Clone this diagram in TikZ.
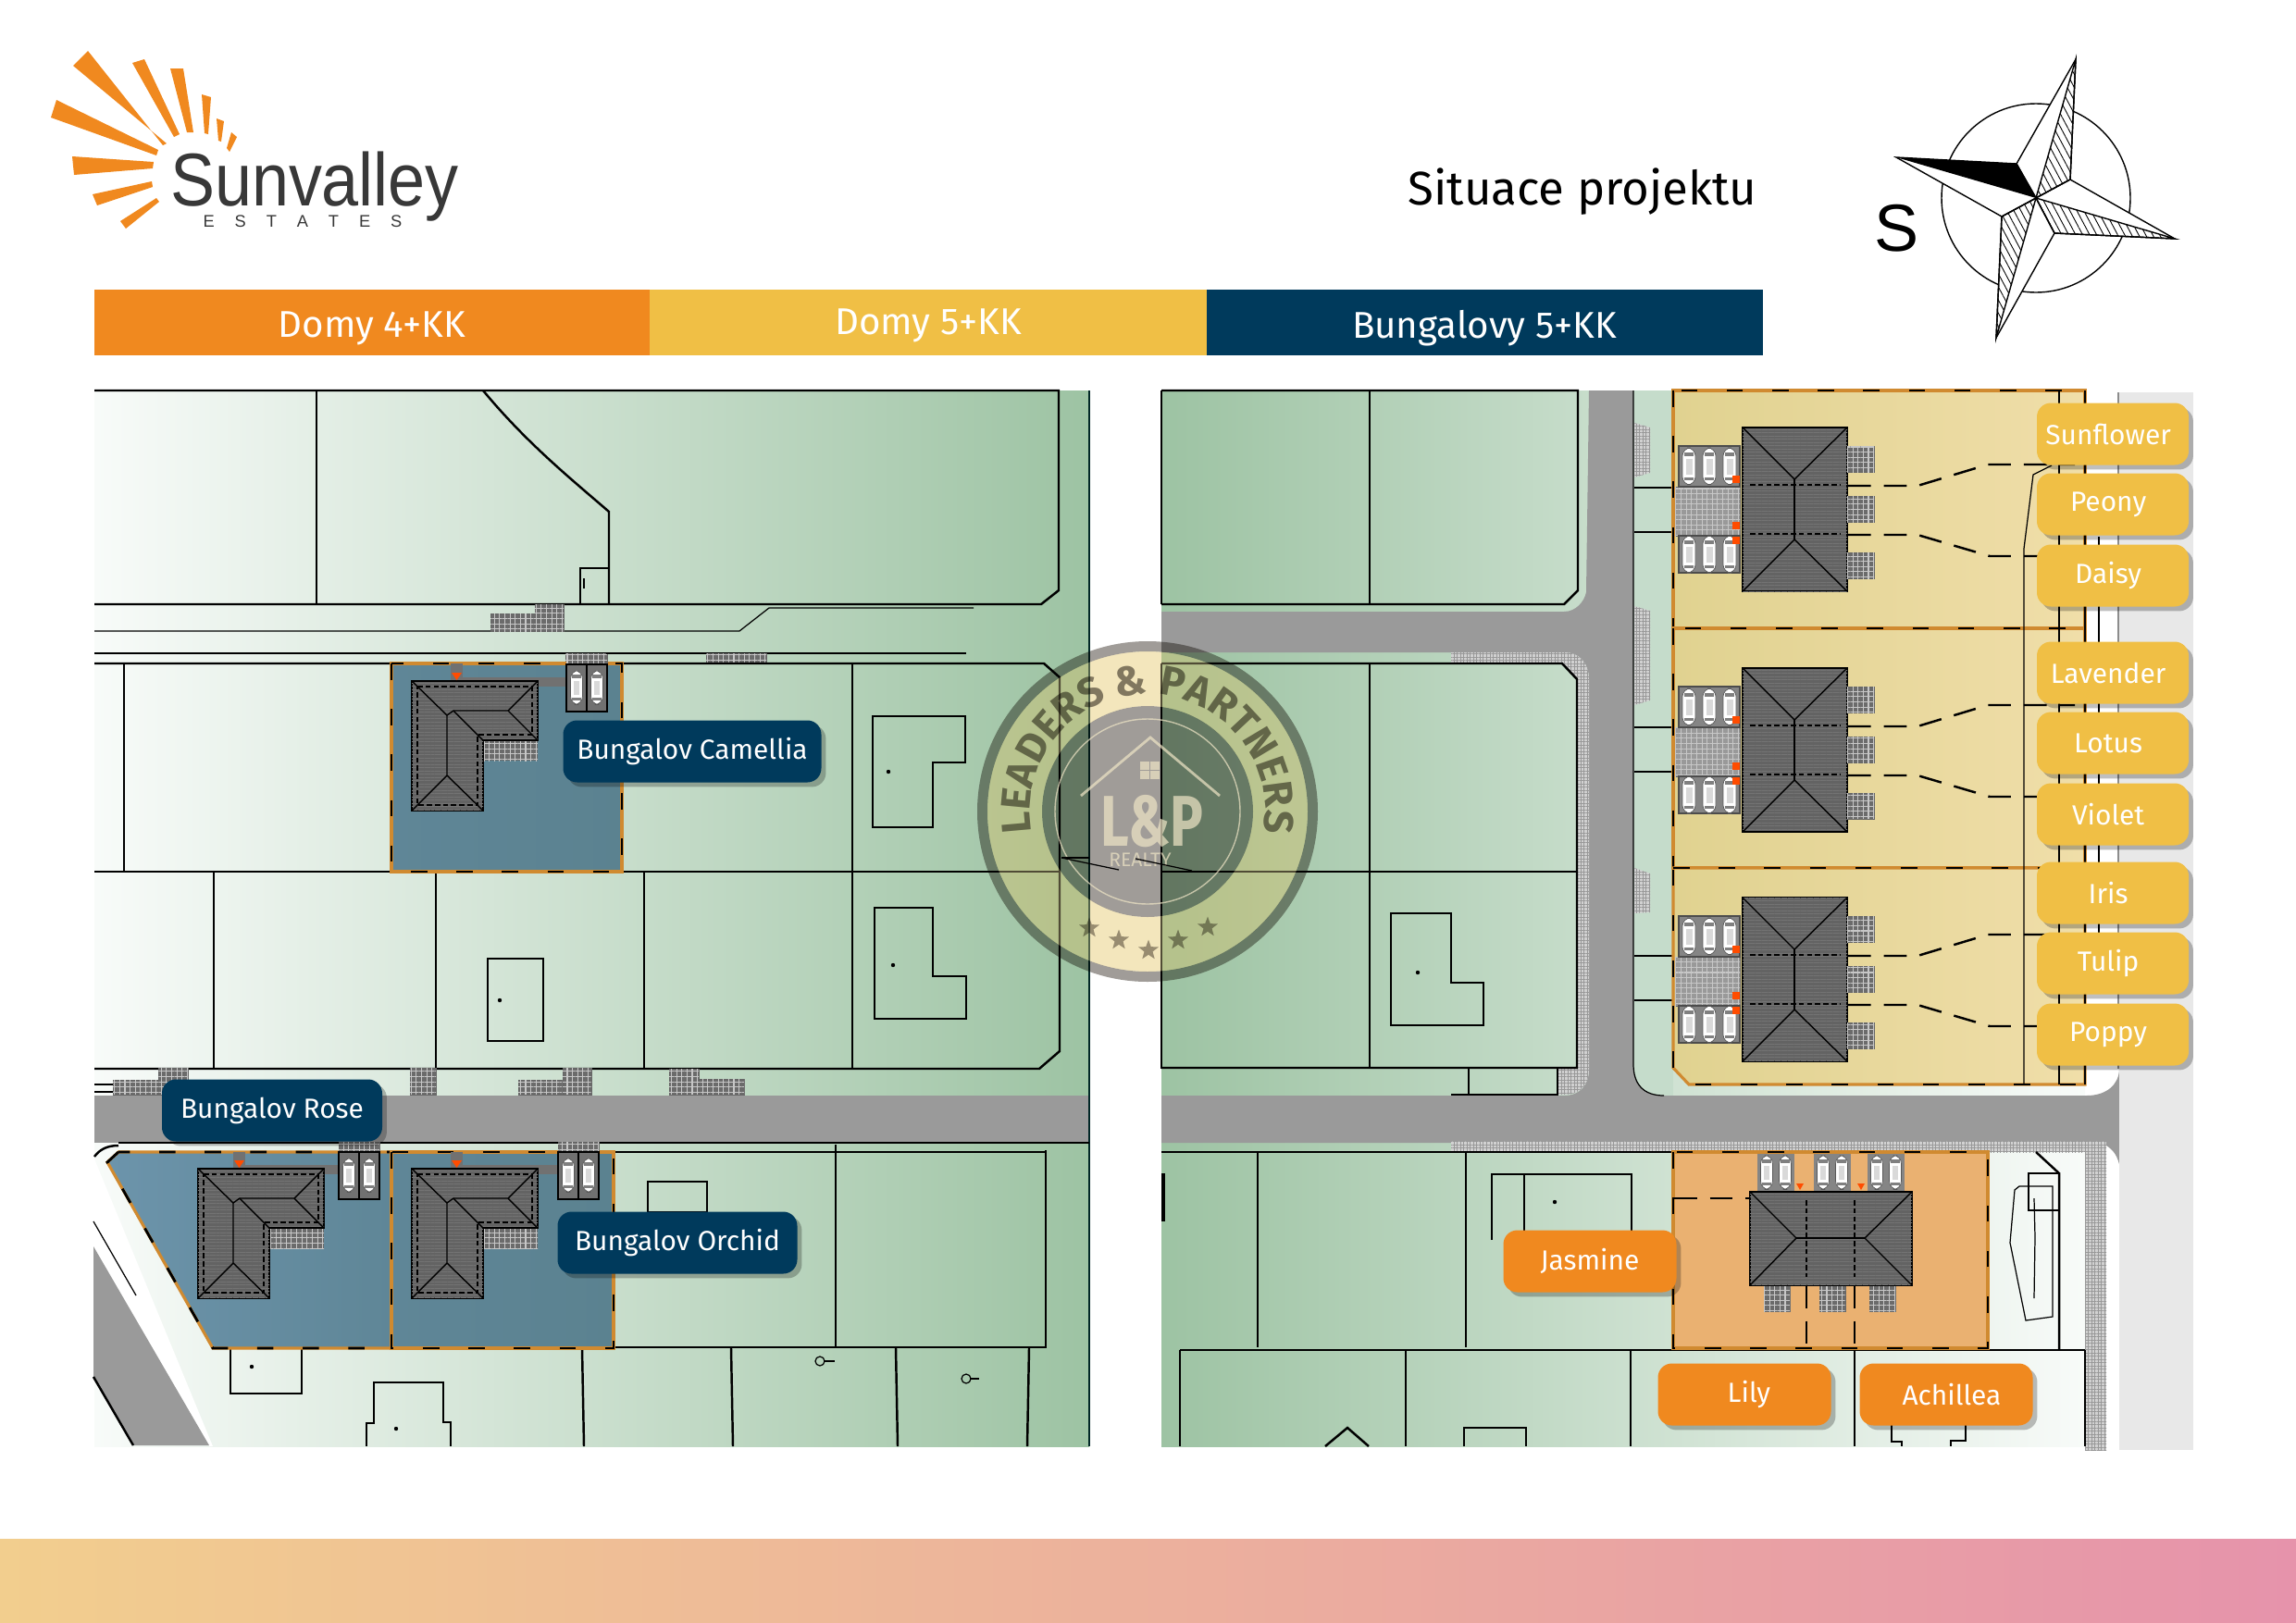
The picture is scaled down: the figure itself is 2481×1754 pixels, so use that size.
\documentclass[tikz,border=0pt]{standalone}
\usepackage{fontspec}
\setmainfont{Fira Sans}
\newfontfamily\logofont{Liberation Sans}
\newfontfamily\estatesfont[LetterSpace=92]{Liberation Sans}
\usetikzlibrary{patterns.meta,shadows,shapes.geometric,decorations.text}
\definecolor{sunorange}{HTML}{F0891F}
\definecolor{sunyellow}{HTML}{F0BF45}
\definecolor{deepnavy}{HTML}{003A5C}
\definecolor{roadgray}{HTML}{9A9A9A}
\definecolor{roofgray}{HTML}{636363}
\definecolor{parkgray}{HTML}{858585}
\definecolor{plotgreen}{HTML}{9DC3A3}
\definecolor{plotpale}{HTML}{F8FBF9}
\definecolor{stripgreen}{HTML}{C5DCCB}
\definecolor{edgeorange}{HTML}{D08A30}
\definecolor{sealgray}{HTML}{A09C98}
\definecolor{sealgold}{HTML}{F9EFCF}
\definecolor{sealwarm}{HTML}{E8D79A}
\definecolor{sealpale}{HTML}{EFE5C6}
\definecolor{bandleft}{HTML}{F2CE8E}
\definecolor{bandmid}{HTML}{EBB08F}
\definecolor{bandright}{HTML}{E693AB}
\definecolor{lotblueA}{HTML}{6C94AB}
\definecolor{lotblueB}{HTML}{5F8697}
\definecolor{lotblueC}{HTML}{5B8290}
\definecolor{lotorange}{HTML}{EAB171}
\definecolor{lotyellowA}{HTML}{E0D290}
\definecolor{lotyellowB}{HTML}{F0DEA9}
\def\pxu{0.2845pt}
\tikzset{
    plotline/.style={black, line width=0.7pt},
    thinline/.style={black, line width=0.35pt},
    lotedge/.style={draw=edgeorange, line width=0.9pt, postaction={draw=black, line width=0.8pt, dash pattern=on 5pt off 9pt}},
    paver/.style={draw=black!60, line width=0.2pt, fill=black!58, postaction={pattern={Hatch[angle=0,distance=1.6pt,line width=0.3pt]}, pattern color=black!22}},
    walkway/.style={fill=black!18, postaction={pattern={Hatch[angle=0,distance=1pt,line width=0.2pt]}, pattern color=black!40}},
    parkbay/.style={draw=black, line width=0.4pt, fill=parkgray!85!black},
    roof/.style={draw=black, line width=0.5pt, fill=roofgray, postaction={pattern={Lines[angle=0,distance=1pt,line width=0.2pt]}, pattern color=black!55}},
    ridge/.style={black, line width=0.4pt},
    eave/.style={black, line width=0.3pt, dash pattern=on 1.6pt off 0.9pt},
    leader/.style={black, line width=0.7pt, dash pattern=on 7pt off 4pt},
    marker/.style={fill=orange!60!red},
    tag/.style={rounded corners=4.3pt, inner sep=0pt, text=white, minimum height=67*\pxu, font=\fontsize{8.5}{10}\selectfont, drop shadow={shadow xshift=1.4pt, shadow yshift=-1.4pt, opacity=0.25, fill=black}},
    tagyellow/.style={tag, fill=sunyellow, minimum width=164*\pxu, execute at end node=\hspace{2.8pt}},
    tagorange/.style={tag, fill=sunorange, minimum width=187*\pxu},
    tagnavy/.style={tag, fill=deepnavy},
    barlabel/.style={text=white, inner sep=0pt, font=\fontsize{11.45}{13}\selectfont},
    car/.pic={
        \filldraw[draw=black!65, line width=0.2pt, fill=white, rounded corners=2.5pt] (-7,-20) rectangle (7,20);
        \fill[black!50] (-5,-15) rectangle (5,-11);
        \fill[black!50] (-5,12) rectangle (5,15);
        \fill[black!15] (-3.5,-8) rectangle (3.5,9);
    },
    lroof/.pic={
        \path[roof] (0,0) -- (136,0) -- (136,64) -- (77,64) -- (77,140) -- (0,140) -- cycle;
        \draw[eave] (6,6) -- (130,6) -- (130,58) -- (71,58) -- (71,134) -- (6,134) -- cycle;
        \draw[ridge] (0,0) -- (38,37) -- (38,102) -- (0,140);
        \draw[ridge] (38,102) -- (77,140);
        \draw[ridge] (38,37) -- (45,32) -- (104,32) -- (136,0);
        \draw[ridge] (104,32) -- (136,64);
        \draw[ridge] (45,32) -- (77,64);
    },
    twinroof/.pic={
        \path[roof] (0,0) rectangle (113,177);
        \draw[ridge] (0,0) -- (56,56) -- (113,0);
        \draw[ridge] (0,177) -- (56,121) -- (113,177);
        \draw[ridge] (56,56) -- (56,121);
        \draw[eave] (8,62) -- (105,62);
        \draw[eave] (8,115) -- (105,115);
    },
}
\begin{document}
\begin{tikzpicture}[x=0.2845pt, y=-0.2845pt]
    \useasboundingbox (0,0) rectangle (2481,1754);

    % logo
    \fill[sunorange] (95,55) -- (79,71) -- (180,155) -- (176,157) -- cycle;
    \fill[sunorange] (61,108) -- (55,127) -- (169,168) -- (171,162) -- cycle;
    \fill[sunorange] (78,169) -- (80,189) -- (165,182) -- (166,175) -- cycle;
    \fill[sunorange] (100,210) -- (105,222) -- (165,202) -- (164,196) -- cycle;
    \fill[sunorange] (130,239) -- (136,247) -- (172,218) -- (169,214) -- cycle;
    \fill[sunorange] (143,68) -- (156,64) -- (194,145) -- (188,148) -- cycle;
    \fill[sunorange] (184,74) -- (198,74) -- (209,143) -- (202,143) -- cycle;
    \fill[sunorange] (218,102) -- (228,105) -- (225,145) -- (221,144) -- cycle;
    \fill[sunorange] (234,128) -- (242,131) -- (239,153) -- (236,152) -- cycle;
    \fill[sunorange] (250,143) -- (256,148) -- (248,164) -- (245,160) -- cycle;
    \node[transform shape, xscale=0.89, inner sep=0pt, text=black!78, font=\logofont\fontsize{23}{25}\selectfont, anchor=base] (logoname) at (340,222) {Sunvalley};
    \node[inner sep=0pt, text=black!78, font=\estatesfont\fontsize{5.2}{6}\selectfont, anchor=base] (logosub) at (327,245) {E S T A T E S};

    \node[inner sep=0pt, font=\fontsize{14.5}{17}\selectfont] (maintitle) at (1710,207) {Situace projektu};

    % compass
    \draw[line width=0.4pt] (2200,214) circle (102);
    \filldraw[fill=white, line width=0.4pt] (2243,64) -- (2237,194) -- (2200,214) -- (2179,177) -- cycle;
    \filldraw[fill=white, line width=0.4pt] (2350,258) -- (2220,252) -- (2200,214) -- (2237,194) -- cycle;
    \filldraw[fill=white, line width=0.4pt] (2157,365) -- (2163,234) -- (2200,214) -- (2220,252) -- cycle;
    \filldraw[fill=white, line width=0.4pt] (2049,170) -- (2179,177) -- (2200,214) -- (2163,234) -- cycle;
    \fill[black] (2049,170) -- (2179,177) -- (2200,214) -- cycle;
    \draw[line width=0.4pt, pattern={Lines[angle=-62,distance=1.9pt,line width=0.25pt]}] (2243,64) -- (2237,194) -- (2200,214) -- cycle;
    \draw[line width=0.4pt, pattern={Lines[angle=-62,distance=1.9pt,line width=0.25pt]}] (2350,258) -- (2220,252) -- (2200,214) -- cycle;
    \draw[line width=0.4pt, pattern={Lines[angle=-62,distance=1.9pt,line width=0.25pt]}] (2157,365) -- (2163,234) -- (2200,214) -- cycle;
    \node[inner sep=0pt, font=\logofont\fontsize{20.5}{22}\selectfont] (northmark) at (2050,247) {S};

    % header bar
    \fill[sunorange] (102,313) rectangle (702,384);
    \fill[sunyellow] (702,313) rectangle (1304,384);
    \fill[deepnavy] (1304,313) rectangle (1905,384);
    \node[barlabel] (barfour) at (402,355) {Domy 4+KK};
    \node[barlabel] (barfive) at (1003,352) {Domy 5+KK};
    \node[barlabel] (barbungalow) at (1604,355) {Bungalovy 5+KK};

    % bottom band
    \shade[left color=bandleft, middle color=bandmid, right color=bandright] (0,1663) rectangle (2481,1754);

    % left plan
    \shade[left color=plotpale, right color=plotgreen] (102,422) rectangle (1177,1563);
    \fill[roadgray] (102,1184) rectangle (1177,1235);
    \fill[white] (101,1347) -- (101,1250) -- (230,1563) -- (226,1563) -- cycle;
    \fill[roadgray] (101,1347) -- (226,1562) -- (144,1562) -- (101,1488) -- cycle;
    \draw[thinline] (101,1320) -- (147,1400);
    \draw[plotline] (101,1488) -- (144,1562);
    \draw[black!70!teal, line width=0.6pt] (1177,422) -- (1177,1563);

    \draw[plotline] (102,422) -- (1144,422) -- (1144,638) -- (1125,653) -- (102,653);
    \draw[plotline] (342,422) -- (342,653);
    \draw[plotline] (522,422) .. controls (570,480) and (620,520) .. (658,553) -- (658,653);
    \draw[plotline] (627,653) -- (627,614) -- (658,614);
    \draw[thinline] (631,625) -- (631,636);
    \draw[thinline] (102,682) -- (799,682) -- (831,657) -- (1052,657);
    \draw[thinline] (102,706) -- (1044,706);
    \fill[paver] (530,663) rectangle (578,682);
    \fill[paver] (578,653) rectangle (609,682);
    \fill[paver] (763,706) rectangle (828,717);
    \fill[paver] (611,706) rectangle (654,717);

    \draw[plotline] (102,717) -- (1128,717) -- (1145,732) -- (1145,1136) -- (1123,1155) -- (102,1155);
    \draw[plotline] (102,942) -- (1145,942);
    \draw[plotline] (134,717) -- (134,942);
    \draw[plotline] (921,717) -- (921,1155);
    \draw[plotline] (231,942) -- (231,1155);
    \draw[plotline] (471,942) -- (471,1155);
    \draw[plotline] (696,942) -- (696,1155);
    \draw[plotline] (943,774) -- (1043,774) -- (1043,824) -- (1008,824) -- (1008,894) -- (943,894) -- cycle;
    \draw[plotline] (945,981) -- (1008,981) -- (1008,1055) -- (1044,1055) -- (1044,1101) -- (945,1101) -- cycle;
    \draw[plotline] (527,1036) rectangle (587,1125);
    \fill (960,834) circle (2.2);
    \fill (965,1043) circle (2.2);
    \fill (540,1081) circle (2.2);

    \fill[paver] (122,1167) rectangle (171,1183);
    \fill[paver] (171,1154) rectangle (203,1183);
    \fill[paver] (443,1154) rectangle (471,1183);
    \fill[paver] (560,1167) rectangle (607,1183);
    \fill[paver] (608,1154) rectangle (639,1183);
    \fill[paver] (723,1155) rectangle (755,1183);
    \fill[paver] (755,1166) rectangle (804,1183);
    \draw[thinline] (102,1172) -- (122,1172);
    \draw[thinline] (102,1180) -- (122,1180);

    \draw[plotline] (128,1235) -- (1177,1235);
    \draw[plotline] (102,1250) .. controls (108,1242) and (116,1238) .. (128,1238);
    \draw[plotline] (663,1245) -- (1130,1245);
    \draw[plotline] (903,1237) -- (903,1456);
    \draw[plotline] (1130,1243) -- (1130,1457);
    \draw[plotline] (663,1456) -- (1130,1456);
    \draw[plotline] (700,1310) -- (700,1277) -- (764,1277) -- (764,1310) -- cycle;
    \draw[plotline] (249,1458) -- (249,1506) -- (326,1506) -- (326,1458);
    \fill (272,1477) circle (2.2);
    \draw[plotline] (396,1563) -- (396,1538) -- (404,1538) -- (404,1494) -- (479,1494) -- (479,1537) -- (487,1537) -- (487,1563);
    \fill (428,1544) circle (2.2);
    \draw[plotline] (629,1457) -- (631,1563);
    \draw[plotline] (790,1457) -- (792,1563);
    \draw[plotline] (968,1457) -- (970,1563);
    \draw[plotline] (1112,1457) -- (1110,1563);
    \draw[thinline] (886,1471) circle (5);
    \draw[thinline] (891,1471) -- (902,1471);
    \draw[thinline] (1044,1490) circle (5);
    \draw[thinline] (1049,1490) -- (1058,1490);

    % blue lots
    \filldraw[left color=lotblueA, right color=lotblueB, lotedge] (128,1245) -- (116,1256) -- (230,1457) -- (423,1457) -- (423,1245) -- cycle;
    \filldraw[left color=lotblueB, right color=lotblueC, lotedge] (423,1245) rectangle (663,1457);
    \filldraw[left color=lotblueB, right color=lotblueC, lotedge] (423,717) rectangle (672,942);

    \foreach \hx/\hy/\wx/\wy/\px/\py in {445/736/487/717/612/718, 214/1263/252/1245/366/1245, 445/1263/487/1245/603/1245}{
        \fill[parkgray!85!black] (\wx,\wy) rectangle (\wx+13,\hy);
        \fill[parkgray!85!black] (\wx+12,\hy-4) rectangle (\px,\hy+6);
        \fill[paver] (\px,\py-11) rectangle (\px+44,\py);
        \filldraw[parkbay] (\px,\py) rectangle (\px+22,\py+51);
        \filldraw[parkbay] (\px+22,\py) rectangle (\px+44,\py+51);
        \pic[scale=0.92] at (\px+11,\py+25) {car};
        \pic[scale=0.92] at (\px+33,\py+25) {car};
        \fill[paver, draw=none] (\hx+77,\hy+64) rectangle (\hx+136,\hy+86);
        \pic at (\hx,\hy) {lroof};
        \fill[marker] (\wx+1,\hy-9) -- (\wx+12,\hy-9) -- (\wx+6.5,\hy-1) -- cycle;
    }

    % right plan
    \shade[left color=plotgreen, right color=plotpale] (1255,422) rectangle (2253,1563);
    \fill[stripgreen] (1764,422) rectangle (1808,1184);
    \fill[roadgray] (1717,422) -- (1765,422) -- (1765,1150) .. controls (1765,1172) and (1776,1184) .. (1798,1184) -- (2255,1184) .. controls (2276,1184) and (2290,1172) .. (2290,1155) -- (2290,1258) .. controls (2287,1247) and (2282,1240) .. (2270,1235) -- (1255,1235) -- (1255,1184) -- (1690,1184) .. controls (1708,1184) and (1717,1172) .. (1717,1155) -- (1717,735) .. controls (1717,718) and (1708,705) .. (1690,705) -- (1255,705) -- (1255,661) -- (1690,661) .. controls (1703,661) and (1712,650) .. (1714,640) -- (1717,422) -- cycle;
    \draw[thinline] (1765,422) -- (1765,1150) .. controls (1765,1172) and (1776,1184) .. (1798,1184);
    \fill[walkway] (1568,705) -- (1690,705) .. controls (1708,705) and (1717,718) .. (1717,735) -- (1717,1155) .. controls (1717,1172) and (1708,1183) .. (1690,1183) -- (1683,1183) -- (1683,1154) -- (1704,1154) -- (1704,734) -- (1688,717) -- (1568,717) -- cycle;
    \fill[walkway] (1568,1233) rectangle (2276,1245);
    \fill[walkway] (2253,1245) rectangle (2276,1567);
    \fill[walkway] (1766,457) -- (1783,462) -- (1783,511) -- (1766,516) -- cycle;
    \fill[walkway] (1766,655) -- (1783,660) -- (1783,757) -- (1766,762) -- cycle;
    \fill[walkway] (1766,938) -- (1783,944) -- (1783,986) -- (1766,987) -- cycle;
    \draw[thinline] (2268,580) -- (2268,1060);
    \draw[black!45, line width=0.3pt] (2289,424) -- (2289,1155);
    \fill[black!9] (2290,424) rectangle (2370,1567);

    \draw[plotline] (1255,422) -- (1705,422) -- (1705,638) -- (1690,653) -- (1255,653);
    \draw[plotline] (1255,422) -- (1255,653);
    \draw[plotline] (1480,422) -- (1480,653);
    \draw[plotline] (1255,717) -- (1688,717) -- (1704,734) -- (1704,1154) -- (1255,1154);
    \draw[plotline] (1255,717) -- (1255,1155);
    \draw[plotline] (1480,717) -- (1480,1155);
    \draw[plotline] (1255,942) -- (1704,942);
    \draw[plotline] (1503,987) -- (1568,987) -- (1568,1062) -- (1603,1062) -- (1603,1108) -- (1503,1108) -- cycle;
    \fill (1532,1051) circle (2.2);
    \draw[thinline] (1587,1154) -- (1587,1183);
    \draw[thinline] (1568,1183) -- (1683,1183) -- (1683,1154);
    \foreach \ly in {786,834,1033,1081,527,575}{
        \draw[thinline] (1766,\ly) -- (1808,\ly);
    }

    \draw[plotline] (1255,1245) -- (1808,1245);
    \draw[plotline] (1359,1245) -- (1359,1456);
    \draw[plotline] (1584,1245) -- (1584,1456);
    \draw[black, line width=1pt] (1257,1268) -- (1257,1320);
    \draw[plotline] (1275,1459) -- (2253,1459);
    \foreach \bx in {1275,1519,1762,2004,2253}{
        \draw[plotline] (\bx,1459) -- (\bx,1563);
    }
    \draw[plotline] (1612,1340) -- (1612,1269) -- (1763,1269) -- (1763,1330);
    \draw[plotline] (1647,1269) -- (1647,1335);
    \fill (1680,1299) circle (2.2);
    \draw[plotline] (1432,1563) -- (1456,1543) -- (1479,1563);
    \draw[plotline] (1582,1563) -- (1582,1543) -- (1649,1543) -- (1649,1563);
    \draw[plotline] (2044,1540) -- (2044,1558) -- (2055,1558) -- (2055,1563);
    \draw[plotline] (2124,1540) -- (2124,1557) -- (2108,1557) -- (2108,1563);

    \draw[plotline] (2200,1245) -- (2225,1268) -- (2225,1459);
    \draw[plotline] (2192,1268) rectangle (2225,1308);
    \draw[thinline] (2177,1286) -- (2182,1282) -- (2218,1282) -- (2218,1423) -- (2189,1427) -- (2172,1343) -- cycle;
    \draw[thinline] (2198,1295) -- (2199,1337) -- (2198,1403);

    % orange lot
    \filldraw[fill=lotorange, lotedge] (1808,1245) rectangle (2148,1457);
    \draw[leader] (1809,1295) -- (1891,1295);
    \draw[leader] (1952,1389) -- (1952,1457);
    \draw[leader] (2004,1389) -- (2004,1457);
    \foreach \gx in {1899,1960,2018}{
        \fill[parkgray] (\gx,1247) rectangle (\gx+40,1288);
        \pic[scale=0.92] at (\gx+10,1267) {car};
        \pic[scale=0.92] at (\gx+30,1267) {car};
    }
    \fill[marker] (1941,1279) -- (1949,1279) -- (1945,1286) -- cycle;
    \fill[marker] (2007,1279) -- (2015,1279) -- (2011,1286) -- cycle;
    \foreach \gx in {1906,1966,2020}{
        \fill[paver] (\gx,1389) rectangle (\gx+28,1417);
    }
    \path[roof] (1891,1288) rectangle (2066,1389);
    \draw[ridge] (1891,1288) -- (1941,1338) -- (1891,1389);
    \draw[ridge] (2066,1288) -- (2015,1338) -- (2066,1389);
    \draw[ridge] (1941,1338) -- (2015,1338);
    \draw[eave] (1952,1297) -- (1952,1380);
    \draw[eave] (2004,1297) -- (2004,1380);

    % yellow lots
    \filldraw[left color=lotyellowA, right color=lotyellowB, lotedge] (1808,422) rectangle (2253,679);
    \filldraw[left color=lotyellowA, right color=lotyellowB, lotedge] (1808,679) rectangle (2253,938);
    \filldraw[left color=lotyellowA, right color=lotyellowB, lotedge] (1808,938) -- (2253,938) -- (2253,1172) -- (1825,1172) -- (1808,1154) -- cycle;
    \draw[plotline] (2225,422) -- (2225,1172);
    \draw[plotline] (2253,422) -- (2253,1172);
    \draw[thinline] (2217,503) -- (2197,513) -- (2187,593) -- (2187,1172);

    \foreach \ty in {462,722,970}{
        \path[paver, fill=black!40] (1810,\ty+64) rectangle (1880,\ty+117);
        \fill[parkgray] (1814,\ty+20) rectangle (1880,\ty+64);
        \fill[parkgray] (1814,\ty+117) rectangle (1880,\ty+157);
        \draw[black!70, line width=0.3pt] (1814,\ty+20) rectangle (1880,\ty+64);
        \draw[black!70, line width=0.3pt] (1814,\ty+117) rectangle (1880,\ty+157);
        \foreach \cx in {1825,1847,1869}{
            \pic at (\cx,\ty+42) {car};
            \pic at (\cx,\ty+137) {car};
        }
        \foreach \my in {56,106,122}{
            \fill[marker] (1872,\ty+\my-4) rectangle (1880,\ty+\my+4);
        }
        \pic at (1883,\ty) {twinroof};
        \foreach \ry in {20,74,135}{
            \fill[paver] (1996,\ty+\ry) rectangle (2025,\ty+\ry+28);
        }
        \draw[leader] (1997,\ty+63) -- (2072,\ty+63) -- (2148,\ty+40) -- (2242,\ty+40);
        \draw[leader] (1997,\ty+116) -- (2072,\ty+116) -- (2150,\ty+139) -- (2205,\ty+139);
    }

    % seal
    \begin{scope}[shift={(1240,877)}, x=0.2845pt, y=0.2845pt]
        \begin{scope}[blend mode=multiply]
            \fill[sealgray, even odd rule] (0,0) circle (184) (0,0) circle (173);
            \fill[sealgold, even odd rule] (0,0) circle (173) (0,0) circle (114);
            \fill[sealgray] (0,0) circle (114);
        \end{scope}
        \fill[sealwarm, opacity=0.35, even odd rule] (0,0) circle (173) (0,0) circle (114);
        \begin{scope}[blend mode=multiply]
            \path[decorate, decoration={text along path, text align=center, text={|\fontsize{12.7}{14}\bfseries\selectfont\color{sealgray!85!black}|LEADERS {\&} PARTNERS}}] (205:127) arc (205:-25:127);
            \foreach \sx/\sy in {-63/-126,-31/-139,1/-150,33/-139,65/-125}{
                \node[star, star points=5, star point ratio=2.4, fill=sealgray, inner sep=0pt, minimum size=6.5pt] at (\sx,\sy) {};
            }
        \end{scope}
        \begin{scope}[opacity=0.7]
            \draw[sealpale, line width=0.4pt] (0,0) circle (100);
            \draw[sealpale, line width=0.8pt] (-72,17) -- (3,80) -- (78,17);
            \foreach \wx/\wy in {-8/54,3/54,-8/44,3/44}{
                \fill[sealpale] (\wx,\wy) rectangle (\wx+10,\wy-9);
            }
            \node[transform shape, yscale=1.3, inner sep=0pt, text=sealpale, font=\fontsize{17}{20}\bfseries\selectfont] (sealmark) at (5,-11) {L\&P};
            \node[inner sep=0pt, text=sealpale, font=\fontsize{6}{7}\selectfont] (sealrealty) at (-8,-52) {REALTY};
        \end{scope}
    \end{scope}
    \draw[thinline] (1147,927) -- (1209,940);
    \draw[thinline] (1227,928) -- (1288,941);
    \draw[thinline] (1147,927) -- (1177,927);

    % labels
    \node[tagyellow] (sunflower) at (2283,469) {Sunflower};
    \node[tagyellow] (peony) at (2283,545) {Peony};
    \node[tagyellow] (daisy) at (2283,622) {Daisy};
    \node[tagyellow] (lavender) at (2283,727) {Lavender};
    \node[tagyellow] (lotus) at (2283,803) {Lotus};
    \node[tagyellow] (violet) at (2283,880) {Violet};
    \node[tagyellow] (iris) at (2283,965) {Iris};
    \node[tagyellow] (tulip) at (2283,1041) {Tulip};
    \node[tagyellow] (poppy) at (2283,1118) {Poppy};
    \node[tagorange] (jasmine) at (1718,1363) {Jasmine\hspace{1.4pt}};
    \node[tagorange] (lily) at (1885,1507) {\hspace{2.8pt}Lily};
    \node[tagorange] (achillea) at (2103,1507) {\hspace{3.4pt}Achillea};
    \node[tagnavy, minimum width=279*\pxu] (camellia) at (748,812) {Bungalov Camellia};
    \node[tagnavy, minimum width=238*\pxu] (rose) at (294,1200) {Bungalov Rose};
    \node[tagnavy, minimum width=259*\pxu] (orchid) at (732,1343) {Bungalov Orchid};
\end{tikzpicture}
\end{document}
